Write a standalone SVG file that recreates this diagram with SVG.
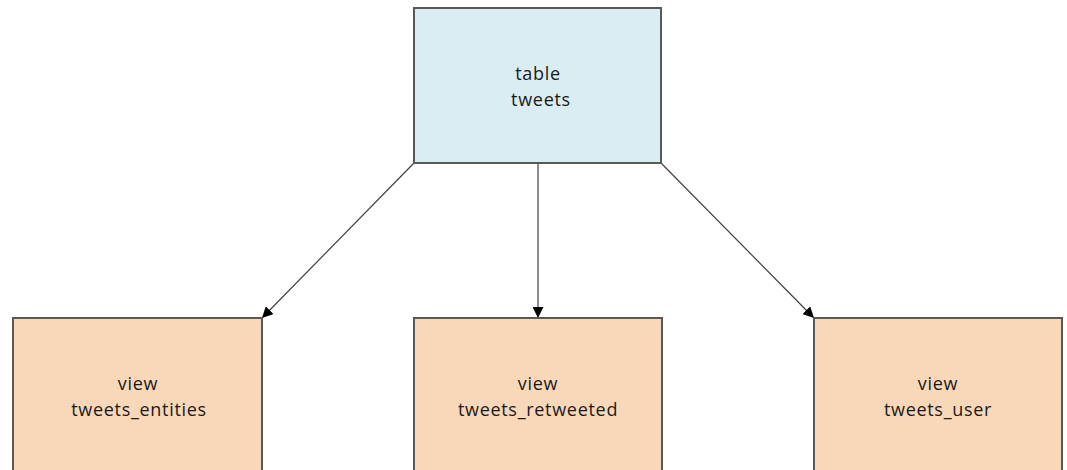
<svg xmlns="http://www.w3.org/2000/svg" width="1067" height="470" viewBox="0 0 1067 470">
<style>
.box{stroke:#595959;stroke-width:2}
.tbl{fill:#DAEDF3}
.view{fill:#F9D8BA}
.lbl{font-family:"Open Sans","Liberation Sans",sans-serif;font-size:18px;letter-spacing:0.7px;fill:#1a1a1a;text-anchor:middle}
.edge{stroke:#404040;stroke-width:1.2;fill:none;marker-end:url(#arr)}
</style>
<defs>
<marker id="arr" viewBox="0 0 10 10" refX="10" refY="5" markerWidth="11" markerHeight="11" markerUnits="userSpaceOnUse" orient="auto">
<path d="M0,0 L10,5 L0,10 z" fill="#000"/>
</marker>
</defs>
<rect width="1067" height="470" fill="#fff"/>
<g id="edges">
<line class="edge" x1="414" y1="163" x2="262" y2="318"/>
<line class="edge" x1="538" y1="163" x2="538" y2="318"/>
<line class="edge" x1="661" y1="163" x2="814" y2="318"/>
</g>
<g id="tweets">
<rect class="box tbl" x="414" y="8" width="247" height="155"/>
<text class="lbl" x="538" y="80">table</text>
<text class="lbl" x="541" y="106">tweets</text>
</g>
<g id="tweets_entities">
<rect class="box view" x="13" y="318" width="249" height="160"/>
<text class="lbl" x="138" y="390">view</text>
<text class="lbl" x="139" y="416">tweets_entities</text>
</g>
<g id="tweets_retweeted">
<rect class="box view" x="414" y="318" width="248" height="160"/>
<text class="lbl" x="538" y="390">view</text>
<text class="lbl" x="538" y="416">tweets_retweeted</text>
</g>
<g id="tweets_user">
<rect class="box view" x="814" y="318" width="248" height="160"/>
<text class="lbl" x="938" y="390">view</text>
<text class="lbl" x="938" y="416">tweets_user</text>
</g>
</svg>
